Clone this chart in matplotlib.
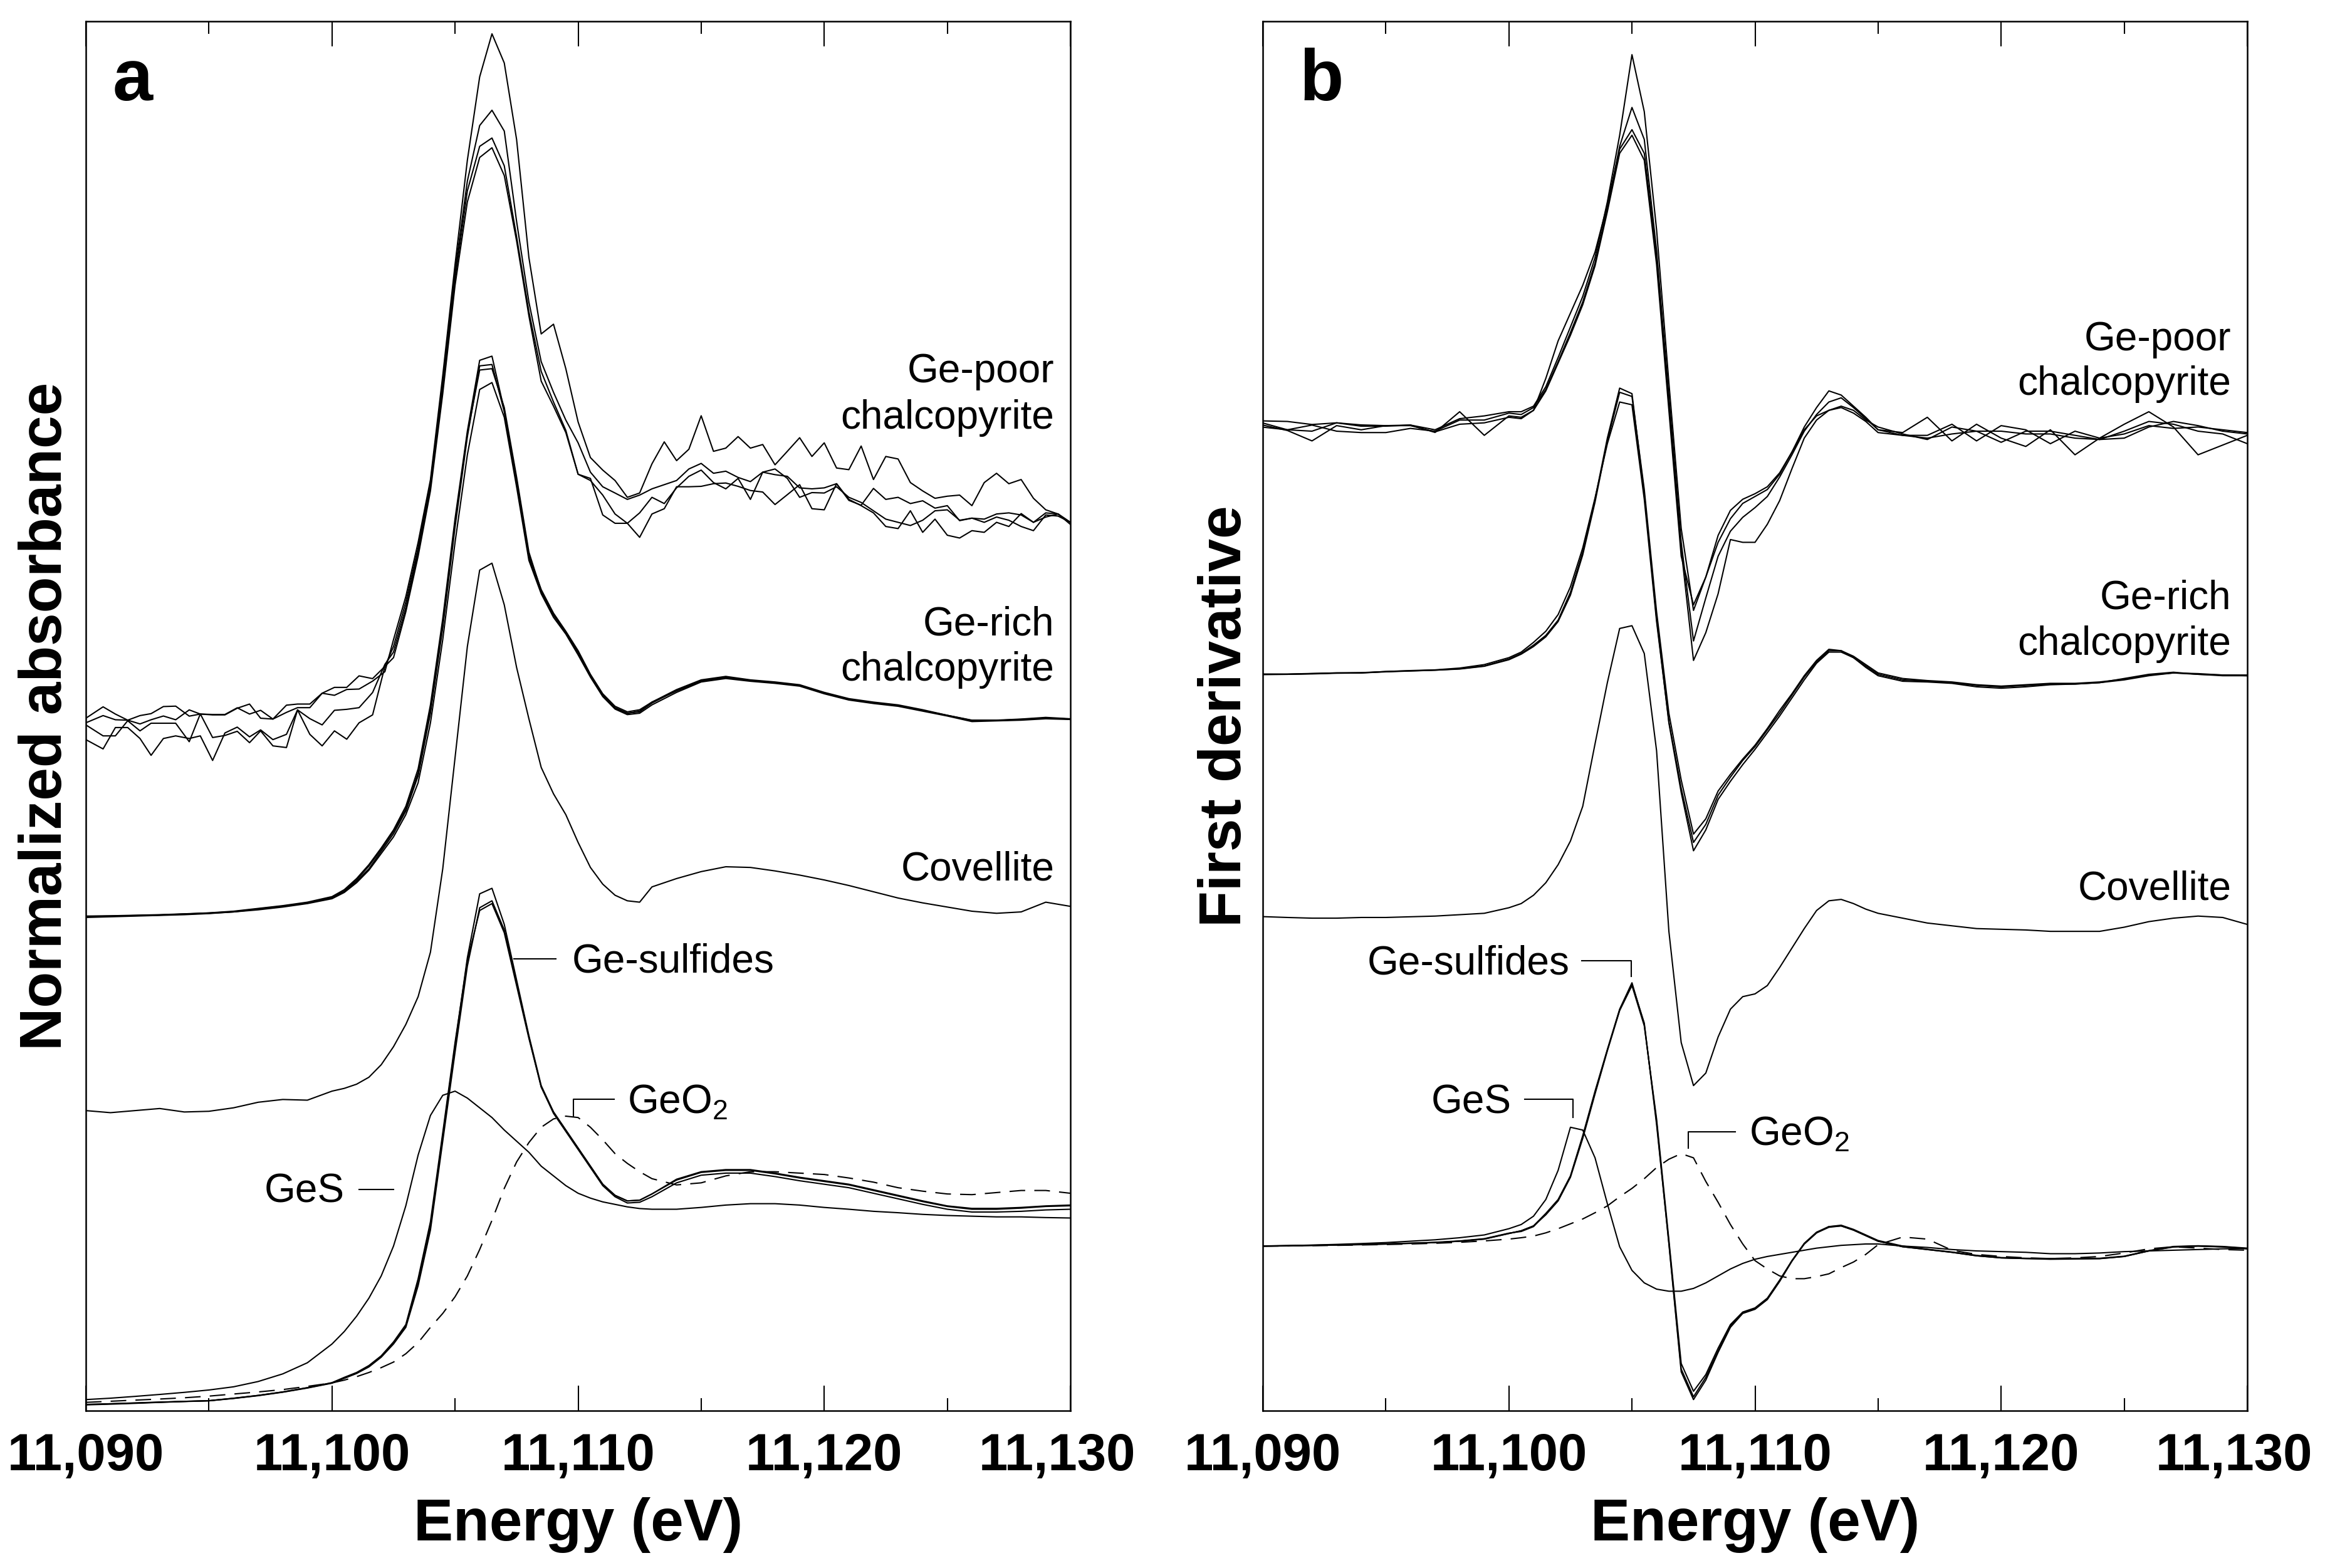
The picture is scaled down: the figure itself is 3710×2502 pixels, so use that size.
import matplotlib
matplotlib.use('Agg')
import matplotlib.pyplot as plt
from matplotlib.transforms import ScaledTranslation

plt.rcParams['font.family'] = ['Liberation Sans', 'DejaVu Sans']

# Energy grids (eV) -- sampling of the traces
E_A = [11090, 11091, 11092, 11093, 11094, 11095, 11096, 11097, 11098, 11099, 11100,
       11100.5, 11101, 11101.5, 11102, 11102.5, 11103, 11103.5, 11104, 11104.5, 11105,
       11105.5, 11106, 11106.5, 11107, 11107.5, 11108, 11108.5, 11109, 11109.5, 11110,
       11110.5, 11111, 11111.5, 11112, 11112.5, 11113,
       11114, 11115, 11116, 11117, 11118, 11119, 11120, 11121, 11122, 11123, 11124,
       11125, 11126, 11127, 11128, 11129, 11130]

E_A_POOR = [11090.0, 11090.7, 11091.2, 11091.7, 11092.2, 11092.65, 11093.15, 11093.65,
            11094.2, 11094.65, 11095.15, 11095.65, 11096.15, 11096.65, 11097.1, 11097.6,
            11098.15, 11098.6, 11099.1, 11099.6, 11100.1, 11100.6, 11101.1, 11101.65,
            11102.15,
            11102.5, 11103, 11103.5, 11104, 11104.5, 11105, 11105.5, 11106, 11106.5, 11107,
            11107.5, 11108, 11108.5, 11109, 11109.5,
            11110, 11110.5, 11111, 11111.5, 11112, 11112.5, 11113, 11113.5, 11114, 11114.5,
            11115, 11115.5, 11116, 11116.5, 11117, 11117.5, 11118, 11118.5, 11119, 11119.5,
            11120, 11120.5, 11121, 11121.5, 11122, 11122.5, 11123, 11123.5, 11124, 11124.5,
            11125, 11125.5, 11126, 11126.5, 11127, 11127.5, 11128, 11128.5, 11129, 11129.5,
            11130]

E_B = [11090, 11091, 11092, 11093, 11094, 11095, 11096, 11097, 11098, 11099, 11100,
       11100.5, 11101, 11101.5, 11102, 11102.5, 11103, 11103.5, 11104, 11104.5, 11105,
       11105.5, 11106, 11106.5, 11107, 11107.5, 11108, 11108.5, 11109, 11109.5, 11110,
       11110.5, 11111, 11111.5, 11112, 11112.5, 11113, 11113.5, 11114, 11114.5,
       11115, 11116, 11117, 11118, 11119, 11120, 11121, 11122, 11123, 11124, 11125,
       11126, 11127, 11128, 11129, 11130]

# ---- panel a: normalized absorbance (stacked, arbitrary offset units) ----
ge_poor_a = [
    [49.84, 50.66, 50.14, 49.7, 50.03, 50.17, 50.68, 50.71, 49.99, 50.14, 50.08, 50.08,
     50.56, 50.86, 49.84, 49.78, 50.78, 50.86, 50.86, 51.64, 51.49, 51.91, 51.94, 52.51,
     53.19,
     55.5, 58.6, 62.5, 67.0, 74.5, 82.5, 90.0, 96.0, 99.1, 97.0, 91.5, 83.0, 77.5, 78.2, 75.0,
     71.16, 68.6, 67.7, 66.95, 65.74, 66.05, 68.15, 69.73, 68.38, 69.2, 71.61, 69.05,
     69.28, 70.11, 69.28, 69.54, 68.08, 69.05, 70.03, 68.68, 69.66, 67.85, 67.73, 69.43,
     67.02, 68.68, 68.5, 66.8, 66.2, 65.67, 65.82, 65.9, 65.14, 66.8, 67.47, 66.72,
     67.02, 65.67, 64.84, 64.54, 63.94],
    [49.51, 50.03, 49.73, 49.7, 49.43, 49.73, 50.0, 49.73, 50.44, 50.14, 50.11, 50.11,
     50.59, 50.14, 50.41, 49.78, 50.26, 50.6, 50.6, 51.64, 52.06, 52.06, 52.89, 52.69,
     53.57,
     55.0, 58.2, 62.1, 66.8, 74.0, 82.0, 88.5, 92.5, 93.6, 92.1, 85.6, 79.8, 75.5, 73.3, 71.3,
     69.66, 67.55, 66.5, 66.05, 65.59, 65.9, 66.35, 66.65, 66.95, 67.78, 68.18, 67.47,
     67.62, 67.17, 66.87, 67.55, 67.37, 67.25, 66.42, 66.35, 66.42, 66.72, 65.59, 65.14,
     64.62, 63.64, 63.49, 64.77, 63.22, 64.17, 63.01, 62.81, 63.34, 63.22, 63.94, 63.64,
     64.57, 63.94, 64.62, 64.54, 63.79],
    [49.36, 48.57, 48.57, 49.66, 48.93, 49.48, 49.48, 49.48, 48.15, 50.15, 48.45, 48.6,
     48.9, 48.08, 48.93, 47.85, 47.73, 50.44, 49.81, 49.36, 50.41, 50.48, 50.6, 51.69,
     53.72,
     54.6, 57.8, 61.8, 66.5, 73.6, 81.5, 87.8, 91.0, 91.6, 89.6, 84.5, 79.1, 74.8, 72.6, 70.56,
     67.4, 67.1, 64.47, 63.87, 63.87, 62.86, 64.54, 64.92, 66.5, 66.5, 66.53, 66.72,
     66.77, 66.53, 66.23, 66.12, 65.22, 65.93, 66.65, 64.92, 64.84, 66.72, 65.52, 65.17,
     66.38, 65.59, 65.74, 65.29, 65.49, 64.96, 65.14, 64.06, 64.24, 63.94, 64.32, 64.09,
     63.64, 63.34, 64.47, 64.39, 63.94],
    [48.3, 47.63, 49.17, 49.17, 48.38, 47.17, 48.38, 48.57, 48.38, 48.57, 46.8, 48.78,
     49.2, 48.5, 49.0, 48.3, 48.68, 50.44, 48.68, 47.85, 48.93, 48.33, 49.51, 50.08,
     53.57,
     54.2, 57.5, 61.5, 66.2, 73.2, 81.0, 87.0, 90.2, 90.9, 88.9, 84.2, 78.8, 74.1, 72.3, 70.4,
     67.4, 66.95, 65.9, 64.54, 63.87, 64.62, 65.74, 65.29, 66.42, 67.25, 67.7, 66.8,
     66.35, 67.1, 65.59, 67.55, 67.78, 67.1, 65.74, 66.08, 66.05, 66.5, 65.74, 65.37,
     64.77, 64.17, 63.94, 63.71, 64.09, 64.77, 64.84, 64.09, 64.24, 64.17, 64.54, 64.62,
     64.47, 63.94, 64.32, 64.54, 63.94],
]

ge_rich_a = [
    [35.56, 35.6, 35.63, 35.67, 35.74, 35.8, 35.9, 36.1, 36.3, 36.53, 36.9,
     37.37, 38.1, 39.0, 40.26, 41.53, 43.16, 45.7, 50.2, 56.35, 63.6, 70.1, 75.2, 75.3,
     71.9, 66.8, 61.4, 58.9, 57.26, 56.0, 54.55, 52.9, 51.5, 50.57, 50.2, 50.3, 50.93,
     51.84, 52.56, 52.8, 52.56, 52.4, 52.2, 51.66, 51.2, 50.93, 50.75, 50.4, 50.03,
     49.67, 49.67, 49.74, 49.85, 49.78],
    [35.5, 35.55, 35.6, 35.65, 35.7, 35.78, 35.9, 36.05, 36.25, 36.5, 36.85,
     37.3, 38.0, 38.9, 40.1, 41.3, 42.9, 45.2, 49.5, 55.5, 62.5, 68.8, 73.5, 74.0,
     71.5, 66.5, 61.2, 58.8, 57.1, 55.9, 54.4, 52.8, 51.4, 50.5, 50.1, 50.2, 50.8,
     51.7, 52.45, 52.7, 52.5, 52.35, 52.15, 51.6, 51.15, 50.9, 50.7, 50.35, 50.0,
     49.6, 49.65, 49.7, 49.8, 49.75],
    [35.6, 35.62, 35.66, 35.7, 35.76, 35.83, 35.95, 36.15, 36.35, 36.6, 37.0,
     37.5, 38.3, 39.3, 40.5, 41.8, 43.5, 46.2, 50.8, 57.0, 64.2, 70.5, 75.6, 75.9,
     72.0, 67.0, 61.6, 59.1, 57.4, 56.1, 54.7, 53.0, 51.6, 50.7, 50.3, 50.45, 51.0,
     51.9, 52.6, 52.85, 52.6, 52.45, 52.25, 51.7, 51.25, 51.0, 50.8, 50.45, 50.05,
     49.7, 49.7, 49.78, 49.9, 49.8],
    [35.58, 35.6, 35.64, 35.68, 35.75, 35.82, 35.92, 36.12, 36.32, 36.56, 36.95,
     37.4, 38.2, 39.2, 40.4, 41.7, 43.3, 45.9, 50.5, 56.7, 63.9, 70.3, 74.9, 75.0,
     72.2, 67.2, 61.8, 59.0, 57.3, 56.0, 54.6, 52.95, 51.55, 50.6, 50.2, 50.35, 51.0,
     51.8, 52.5, 52.75, 52.55, 52.4, 52.2, 51.65, 51.2, 50.95, 50.75, 50.4, 50.05,
     49.68, 49.68, 49.76, 49.86, 49.78],
]

covellite_a = [21.6, 21.45, 21.6, 21.75, 21.5, 21.55, 21.8, 22.2, 22.4, 22.35, 23.0,
               23.2, 23.5, 24.0, 24.9, 26.2, 27.8, 29.8, 33.0, 39.0, 47.0, 55.0, 60.5, 61.0,
               58.0, 53.5, 49.8, 46.3, 44.4, 42.9, 40.9, 39.1, 37.9, 37.1, 36.7, 36.6, 37.7,
               38.3, 38.8, 39.15, 39.1, 38.85, 38.55, 38.2, 37.8, 37.35, 36.9, 36.55, 36.25,
               35.95, 35.8, 35.9, 36.6, 36.3]

sulfides_a = [
    [0.45, 0.5, 0.56, 0.62, 0.67, 0.72, 0.9, 1.1, 1.35, 1.65, 2.0,
     2.35, 2.7, 3.2, 3.9, 4.9, 6.1, 9.3, 13.3, 19.8, 26.3, 32.6, 37.2, 37.6,
     35.0, 31.0, 27.0, 23.4, 21.5, 20.2, 18.9, 17.6, 16.3, 15.5, 15.1, 15.15, 15.6,
     16.66, 17.2, 17.35, 17.35, 17.1, 16.8, 16.55, 16.3, 15.9, 15.5, 15.1, 14.74,
     14.56, 14.56, 14.63, 14.74, 14.8],
    [0.42, 0.47, 0.53, 0.6, 0.66, 0.71, 0.88, 1.08, 1.33, 1.63, 1.98,
     2.33, 2.68, 3.15, 3.85, 4.8, 6.0, 9.0, 13.0, 19.4, 25.8, 32.0, 36.2, 36.7,
     34.6, 30.8, 26.9, 23.3, 21.4, 20.1, 18.8, 17.5, 16.2, 15.4, 14.95, 15.0, 15.4,
     16.4, 16.95, 17.1, 17.1, 16.85, 16.55, 16.3, 16.05, 15.65, 15.25, 14.85, 14.5,
     14.3, 14.3, 14.35, 14.45, 14.5],
    [0.44, 0.5, 0.55, 0.61, 0.67, 0.72, 0.89, 1.1, 1.35, 1.66, 2.02,
     2.4, 2.75, 3.25, 3.95, 4.95, 6.2, 9.5, 13.6, 20.0, 26.5, 32.4, 36.0, 36.5,
     34.4, 30.6, 26.8, 23.3, 21.5, 20.2, 18.9, 17.6, 16.3, 15.5, 15.1, 15.15, 15.6,
     16.6, 17.15, 17.3, 17.3, 17.05, 16.75, 16.5, 16.25, 15.85, 15.45, 15.05, 14.7,
     14.5, 14.5, 14.58, 14.7, 14.75],
]

ges_a = [0.8, 0.9, 1.03, 1.17, 1.32, 1.49, 1.72, 2.1, 2.65, 3.45, 4.8,
         5.7, 6.8, 8.1, 9.7, 11.85, 14.75, 18.4, 21.25, 22.7, 23.0, 22.5, 21.8, 21.1,
         20.2, 19.4, 18.6, 17.6, 16.9, 16.2, 15.65, 15.3, 15.03, 14.85, 14.67, 14.55, 14.5,
         14.5, 14.63, 14.8, 14.9, 14.9, 14.8, 14.63, 14.5, 14.35, 14.25, 14.13, 14.05,
         14.0, 13.95, 13.95, 13.9, 13.87]

geo2_a = [0.6, 0.68, 0.76, 0.84, 0.93, 1.05, 1.2, 1.35, 1.52, 1.75, 2.0,
          2.2, 2.45, 2.75, 3.1, 3.5, 4.1, 4.9, 6.0, 7.0, 8.2, 9.7, 11.6, 13.7,
          16.0, 17.9, 19.3, 20.4, 21.0, 21.2, 21.1, 20.4, 19.5, 18.5, 17.8, 17.2, 16.7,
          16.25, 16.4, 16.9, 17.2, 17.2, 17.1, 17.0, 16.75, 16.45, 16.05, 15.8, 15.6,
          15.55, 15.7, 15.85, 15.85, 15.65]

# ---- panel b: first derivative (stacked, arbitrary offset units) ----
ge_poor_b = [
    [71.24, 71.2, 70.98, 71.1, 70.95, 70.9, 70.94, 70.6, 71.4, 71.6, 71.9,
     71.9, 72.3, 73.7, 75.8, 78.0, 80.2, 83.0, 87.0, 91.8, 97.6, 93.5, 85.0, 74.0, 63.5,
     57.6, 60.0, 63.0, 64.8, 65.6, 66.0, 66.5, 67.5, 69.0, 70.8, 72.2, 73.4, 73.1, 72.3, 71.5,
     70.6, 70.4, 71.5, 69.8, 71.0, 70.0, 69.4, 70.6, 68.8, 70.0, 71.0, 71.9, 70.8, 68.8,
     69.5, 70.2],
    [71.09, 70.6, 70.94, 70.5, 70.4, 70.4, 70.7, 70.5, 71.3, 71.3, 71.8,
     71.7, 72.2, 73.5, 75.5, 77.6, 79.8, 82.6, 86.6, 91.0, 93.8, 91.5, 83.5, 73.0, 62.5,
     55.4, 58.5, 61.5, 63.3, 64.3, 65.0, 65.8, 67.2, 68.8, 70.5, 71.7, 72.6, 72.9, 72.2, 71.4,
     70.6, 70.2, 70.2, 71.0, 69.8, 70.9, 70.6, 69.6, 70.5, 70.0, 70.3, 70.9, 70.7, 70.8,
     70.6, 70.4],
    [70.94, 70.55, 69.8, 70.9, 70.6, 70.9, 70.9, 70.45, 71.0, 71.1, 71.5,
     71.4, 72.0, 74.3, 77.0, 79.0, 81.0, 83.4, 86.8, 90.8, 92.2, 90.5, 83.0, 72.5, 62.0,
     54.0, 56.0, 58.8, 62.7, 62.5, 62.5, 63.8, 65.5, 67.8, 70.0, 71.3, 72.0, 72.3, 72.0, 71.3,
     70.8, 70.3, 69.9, 70.8, 70.5, 69.7, 70.5, 70.5, 70.2, 69.9, 70.5, 71.2, 71.0, 70.5,
     70.3, 69.6],
    [70.79, 70.6, 70.5, 71.1, 70.86, 70.86, 70.94, 70.41, 71.9, 70.2, 71.6,
     71.5, 72.0, 73.4, 75.4, 77.4, 79.6, 82.4, 86.3, 90.5, 91.8, 90.0, 82.5, 72.0, 61.5,
     58.0, 60.0, 62.5, 64.2, 65.3, 65.8, 66.3, 67.4, 69.0, 70.6, 71.6, 72.0, 72.2, 71.8, 71.2,
     70.4, 70.2, 70.0, 70.3, 70.5, 70.5, 70.3, 70.3, 70.0, 69.9, 70.0, 70.8, 71.2, 70.9,
     70.5, 70.3],
]

ge_rich_b = [
    [53.0, 53.0, 53.05, 53.1, 53.1, 53.2, 53.25, 53.3, 53.4, 53.6, 54.1,
     54.5, 55.1, 55.8, 56.9, 58.9, 61.8, 65.6, 70.0, 73.6, 73.2, 66.0, 57.0, 49.5, 44.5,
     40.3, 41.8, 44.0, 45.3, 46.5, 47.6, 48.8, 50.0, 51.3, 52.6, 53.8, 54.6, 54.6, 54.2, 53.6,
     53.0, 52.6, 52.5, 52.4, 52.2, 52.1, 52.2, 52.3, 52.3, 52.4, 52.6, 52.9, 53.1, 53.0,
     52.9, 52.9],
    [53.02, 53.02, 53.06, 53.1, 53.12, 53.2, 53.27, 53.32, 53.45, 53.7, 54.2,
     54.6, 55.3, 56.1, 57.3, 59.3, 62.1, 65.7, 69.6, 72.6, 72.4, 65.6, 56.8, 49.6, 44.8,
     40.9, 42.2, 44.3, 45.6, 46.8, 47.8, 49.0, 50.2, 51.5, 52.8, 53.9, 54.7, 54.7, 54.2, 53.5,
     52.9, 52.5, 52.45, 52.35, 52.1, 52.0, 52.1, 52.25, 52.3, 52.4, 52.7, 53.0, 53.15, 53.0,
     52.95, 52.9],
    [52.98, 53.0, 53.03, 53.08, 53.1, 53.18, 53.24, 53.3, 53.38, 53.58, 54.05,
     54.45, 55.0, 55.7, 56.8, 58.7, 61.6, 65.4, 69.8, 73.3, 73.0, 66.3, 57.5, 50.2, 45.4,
     41.5, 42.6, 44.6, 45.8, 46.9, 47.9, 49.1, 50.4, 51.6, 52.9, 54.0, 54.8, 54.7, 54.3, 53.7,
     53.1, 52.7, 52.55, 52.45, 52.25, 52.15, 52.25, 52.35, 52.35, 52.45, 52.65, 52.95, 53.1,
     53.05, 52.95, 52.95],
]

covellite_b = [35.56, 35.5, 35.45, 35.45, 35.5, 35.5, 35.55, 35.6, 35.7, 35.8, 36.2,
               36.5, 37.1, 38.0, 39.3, 41.0, 43.5, 48.0, 52.4, 56.3, 56.5, 54.5, 47.5, 34.5,
               26.5, 23.4, 24.3, 26.9, 28.9, 29.8, 30.0, 30.6, 31.9, 33.3, 34.7, 36.0, 36.7,
               36.8, 36.5, 36.1,
               35.8, 35.45, 35.1, 34.9, 34.7, 34.65, 34.6, 34.5, 34.5, 34.5, 34.8, 35.2, 35.45,
               35.6, 35.5, 35.0]

sulfides_b = [
    [11.85, 11.87, 11.9, 11.93, 11.96, 12.0, 12.05, 12.1, 12.2, 12.35, 12.75,
     12.95, 13.3, 14.2, 15.2, 16.9, 19.8, 23.0, 26.0, 28.9, 30.8, 27.8, 20.8, 12.0, 2.8,
     0.8, 2.2, 4.2, 6.0, 7.0, 7.3, 8.0, 9.3, 10.76, 12.0, 12.8, 13.2, 13.3, 13.0, 12.6,
     12.2, 11.8, 11.6, 11.4, 11.15, 11.0, 10.95, 10.94, 10.94, 10.94, 11.1, 11.5, 11.8,
     11.85, 11.8, 11.67],
    [11.84, 11.86, 11.89, 11.92, 11.95, 11.99, 12.04, 12.1, 12.2, 12.36, 12.76,
     12.95, 13.3, 14.1, 15.1, 16.8, 19.6, 22.8, 25.9, 28.8, 30.6, 27.7, 21.0, 12.3, 3.4,
     1.4, 2.6, 4.5, 6.2, 7.1, 7.4, 8.1, 9.4, 10.8, 12.0, 12.8, 13.25, 13.3, 13.0, 12.6,
     12.2, 11.8, 11.6, 11.4, 11.15, 11.0, 10.95, 10.9, 10.92, 10.95, 11.1, 11.5, 11.78,
     11.85, 11.78, 11.65],
    [11.86, 11.88, 11.91, 11.94, 11.97, 12.01, 12.06, 12.12, 12.22, 12.38, 12.78,
     12.9, 13.25, 14.15, 15.15, 16.85, 19.7, 22.9, 25.95, 28.85, 30.7, 27.9, 20.6, 12.1, 3.0,
     1.0, 2.4, 4.3, 6.1, 7.05, 7.35, 8.05, 9.35, 10.8, 12.05, 12.85, 13.25, 13.35, 13.05,
     12.65,
     12.25, 11.85, 11.62, 11.42, 11.18, 11.02, 10.97, 10.95, 10.96, 10.97, 11.12, 11.52,
     11.82, 11.87, 11.82, 11.7],
]

ges_b = [11.85, 11.88, 11.92, 11.97, 12.03, 12.1, 12.2, 12.3, 12.45, 12.65, 13.1,
         13.4, 14.0, 15.2, 17.3, 20.4, 20.2, 18.2, 14.9, 11.8, 10.1, 9.2, 8.75, 8.6, 8.6,
         8.8, 9.2, 9.7, 10.2, 10.6, 10.9, 11.1, 11.25, 11.4, 11.55, 11.7, 11.8, 11.9, 11.95,
         12.0,
         12.0, 11.85, 11.75, 11.6, 11.5, 11.45, 11.4, 11.3, 11.3, 11.35, 11.45, 11.5, 11.55,
         11.6, 11.65, 11.67]

geo2_b = [11.85, 11.86, 11.88, 11.9, 11.93, 11.96, 12.0, 12.05, 12.12, 12.22, 12.35,
          12.45, 12.57, 12.8, 13.1, 13.45, 13.8, 14.25, 14.74, 15.4, 16.0, 16.7, 17.5, 18.1,
          18.5, 18.2, 16.5, 15.0, 13.4, 12.0, 10.8, 10.2, 9.7, 9.5, 9.5, 9.65, 9.85, 10.3,
          10.7, 11.25,
          11.95, 12.5, 12.35, 11.55, 11.25, 11.1, 11.0, 10.95, 11.0, 11.1, 11.35, 11.65, 11.8,
          11.7, 11.6, 11.55]

TICKS = [11090, 11100, 11110, 11120, 11130]
TICK_LABELS = ['11,090', '11,100', '11,110', '11,120', '11,130']
MINOR_TICKS = [11095, 11105, 11115, 11125]

LW = 1.5
DASH = (0, (12, 7))
LABEL_FS = 46

fig = plt.figure(figsize=(37.1, 25.02), dpi=100)
ax_a = fig.add_axes([137 / 3710, 1 - 2251 / 2502, 1571 / 3710, 2217 / 2502])
ax_b = fig.add_axes([2015 / 3710, 1 - 2251 / 2502, 1571 / 3710, 2217 / 2502])

# panel a curves
for y in ge_poor_a:
    ax_a.plot(E_A_POOR, y, color='black', lw=LW)
for y in ge_rich_a:
    ax_a.plot(E_A, y, color='black', lw=LW)
ax_a.plot(E_A, covellite_a, color='black', lw=LW)
for y in sulfides_a:
    ax_a.plot(E_A, y, color='black', lw=LW)
ax_a.plot(E_A, ges_a, color='black', lw=LW)
ax_a.plot(E_A, geo2_a, color='black', lw=LW, linestyle=DASH)

# panel b curves
for y in ge_poor_b:
    ax_b.plot(E_B, y, color='black', lw=LW)
for y in ge_rich_b:
    ax_b.plot(E_B, y, color='black', lw=LW)
ax_b.plot(E_B, covellite_b, color='black', lw=LW)
for y in sulfides_b:
    ax_b.plot(E_B, y, color='black', lw=LW)
ax_b.plot(E_B, ges_b, color='black', lw=LW)
ax_b.plot(E_B, geo2_b, color='black', lw=LW, linestyle=DASH)

for ax in (ax_a, ax_b):
    ax.set_xlim(11090, 11130)
    ax.set_ylim(0, 100)
    ax.set_xticks(TICKS, labels=TICK_LABELS, fontsize=60, fontweight='bold')
    ax.set_xticks(MINOR_TICKS, minor=True)
    ax.tick_params(axis='x', which='major', direction='in', length=28.8, width=1.5,
                   top=True, bottom=True, pad=24.5)
    ax.tick_params(axis='x', which='minor', direction='in', length=14.4, width=1.5,
                   top=True, bottom=True)
    ax.tick_params(axis='y', left=False, right=False, labelleft=False)
    for sp in ax.spines.values():
        sp.set_linewidth(1.8)
    ax.set_xlabel('Energy (eV)', fontsize=68, fontweight='bold', va='baseline')
    ax.xaxis.set_label_coords(0.5, -0.0934)
    # last tick label sits a little left of its tick, as in the original
    last = ax.get_xticklabels()[-1]
    last.set_transform(last.get_transform() + ScaledTranslation(-0.21, 0, fig.dpi_scale_trans))

ax_a.set_ylabel('Normalized absorbance', fontsize=68, fontweight='bold', va='baseline')
ax_a.yaxis.set_label_coords(-0.0247, 0.5)
ax_b.set_ylabel('First derivative', fontsize=68, fontweight='bold', va='baseline')
ax_b.yaxis.set_label_coords(-0.0222, 0.5)

ax_a.text(0.027, 0.9432, 'a', transform=ax_a.transAxes, fontsize=83, fontweight='bold',
          ha='left', va='baseline')
ax_b.text(0.037, 0.9432, 'b', transform=ax_b.transAxes, fontsize=83, fontweight='bold',
          ha='left', va='baseline')

# sample labels, panel a
ax_a.text(11129.35, 74.0, 'Ge-poor', fontsize=LABEL_FS, ha='right', va='baseline')
ax_a.text(11129.35, 70.7, 'chalcopyrite', fontsize=LABEL_FS, ha='right', va='baseline')
ax_a.text(11129.35, 55.8, 'Ge-rich', fontsize=LABEL_FS, ha='right', va='baseline')
ax_a.text(11129.35, 52.55, 'chalcopyrite', fontsize=LABEL_FS, ha='right', va='baseline')
ax_a.text(11129.35, 38.16, 'Covellite', fontsize=LABEL_FS, ha='right', va='baseline')
ax_a.text(11109.75, 31.53, 'Ge-sulfides', fontsize=LABEL_FS, ha='left', va='baseline')
ax_a.plot([11107.4, 11109.1], [32.5, 32.5], color='black', lw=LW)
ax_a.text(11112.0, 21.4, r'GeO$_\mathregular{2}$', fontsize=LABEL_FS, ha='left', va='baseline')
ax_a.plot([11109.8, 11109.8, 11111.46], [21.2, 22.4, 22.4], color='black', lw=LW)
ax_a.text(11100.5, 15.0, 'GeS', fontsize=LABEL_FS, ha='right', va='baseline')
ax_a.plot([11101.1, 11102.5], [15.9, 15.9], color='black', lw=LW)

# sample labels, panel b
ax_b.text(11129.35, 76.3, 'Ge-poor', fontsize=LABEL_FS, ha='right', va='baseline')
ax_b.text(11129.35, 73.1, 'chalcopyrite', fontsize=LABEL_FS, ha='right', va='baseline')
ax_b.text(11129.35, 57.7, 'Ge-rich', fontsize=LABEL_FS, ha='right', va='baseline')
ax_b.text(11129.35, 54.4, 'chalcopyrite', fontsize=LABEL_FS, ha='right', va='baseline')
ax_b.text(11129.35, 36.8, 'Covellite', fontsize=LABEL_FS, ha='right', va='baseline')
ax_b.text(11102.46, 31.4, 'Ge-sulfides', fontsize=LABEL_FS, ha='right', va='baseline')
ax_b.plot([11102.97, 11104.97, 11104.97], [32.4, 32.4, 31.26], color='black', lw=LW)
ax_b.text(11100.1, 21.4, 'GeS', fontsize=LABEL_FS, ha='right', va='baseline')
ax_b.plot([11100.64, 11102.6, 11102.6], [22.4, 22.4, 21.1], color='black', lw=LW)
ax_b.text(11109.75, 19.08, r'GeO$_\mathregular{2}$', fontsize=LABEL_FS, ha='left', va='baseline')
ax_b.plot([11107.29, 11107.29, 11109.2], [18.9, 20.07, 20.07], color='black', lw=LW)

fig.savefig('out.png', dpi=100)
